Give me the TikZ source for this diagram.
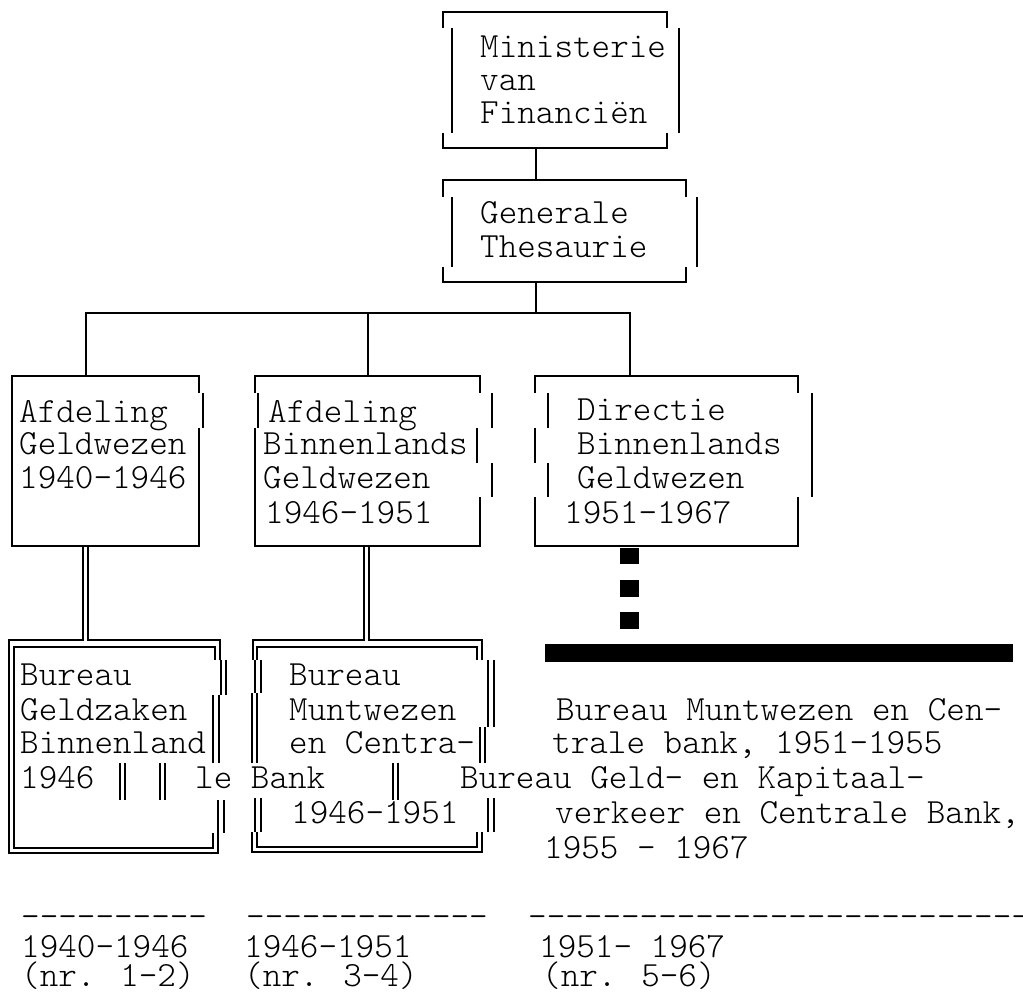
\documentclass[tikz,border=0pt]{standalone}
\usepackage{fontspec}
\newfontfamily\lmlight{Latin Modern Mono Light}
\begin{document}
\begin{tikzpicture}[x=1pt,y=-1pt,
  txt/.style={anchor=base west,inner sep=0pt,font=\lmlight\fontsize{35.4}{40}\selectfont},
  sl/.style={line width=1.8pt},
  dl/.style={line width=1.3pt},
  blk/.style={fill=black}]
\useasboundingbox (0,0) rectangle (1023,996);
\fill[white] (0,0) rectangle (1023,996);

% ---------- Ministerie van Financien
\node[txt] (min1) at (480,57) {Ministerie};
\node[txt] (min2) at (480,90) {van};
\node[txt] (min3) at (480,123) {Financiën};
\draw[sl] (443,28) -- (443,12) -- (667,12) -- (667,28);
\draw[sl] (452,28) -- (452,133);
\draw[sl] (679,28) -- (679,133);
\draw[sl] (443,133) -- (443,148) -- (667,148) -- (667,133);
\coordinate (minB) at (536,148);
\coordinate (genT) at (536,180);
\draw[sl] (minB) -- (genT);

% ---------- Generale Thesaurie
\node[txt] (gen1) at (480,223) {Generale};
\node[txt] (gen2) at (480,257) {Thesaurie};
\draw[sl] (443,197) -- (443,180) -- (686,180) -- (686,197);
\draw[sl] (452,197) -- (452,267);
\draw[sl] (697,197) -- (697,267);
\draw[sl] (443,267) -- (443,282) -- (686,282) -- (686,267);
\coordinate (genB) at (536,282);
\coordinate (bus) at (536,313);
\coordinate (busB) at (368,313);
\coordinate (aT) at (86,376);
\coordinate (bT) at (368,376);
\coordinate (cT) at (630,376);
\draw[sl] (genB) -- (bus);
\draw[sl] (aT) |- (bus) -| (cT);
\draw[sl] (busB) -- (bT);

% ---------- Afdeling Geldwezen
\node[txt] (a1) at (19,422) {Afdeling};
\node[txt] (a2) at (19,454) {Geldwezen};
\node[txt] (a3) at (19,488) {1940-1946};
\draw[sl] (199,393) -- (199,376) -- (12,376) -- (12,546) -- (199,546) -- (199,428);
\draw[sl] (203,393) -- (203,428);

% ---------- Afdeling Binnenlands Geldwezen
\node[txt] (b1) at (268,422) {Afdeling};
\node[txt] (b2) at (263,454) {Binnenlands};
\node[txt] (b3) at (263,488) {Geldwezen};
\node[txt] (b4) at (265,523) {1946-1951};
\draw[sl] (255,393) -- (255,376) -- (480,376) -- (480,393);
\draw[sl] (258,393) -- (258,428);
\draw[sl] (255,428) -- (255,546) -- (480,546) -- (480,497);
\draw[sl] (492,393) -- (492,428);
\draw[sl] (477,428) -- (477,463);
\draw[sl] (492,463) -- (492,497);

% ---------- Directie Binnenlands Geldwezen
\node[txt] (c1) at (577,420) {Directie};
\node[txt] (c2) at (577,454) {Binnenlands};
\node[txt] (c3) at (577,488) {Geldwezen};
\node[txt] (c4) at (564,523) {1951-1967};
\draw[sl] (535,393) -- (535,376) -- (798,376) -- (798,393);
\draw[sl] (548,393) -- (548,428);
\draw[sl] (535,428) -- (535,463);
\draw[sl] (548,463) -- (548,497);
\draw[sl] (535,497) -- (535,546) -- (798,546) -- (798,497);
\draw[sl] (812,393) -- (812,497);

% squares and bar
\fill[blk] (620,548) rectangle (639,564);
\fill[blk] (620,580) rectangle (639,597);
\fill[blk] (620,612) rectangle (639,629);
\fill[blk] (545,644) rectangle (1013,662);

% ---------- Bureau Geldzaken Binnenland (double)
\coordinate (aB1) at (83,546);
\coordinate (aB2) at (88,546);
\coordinate (dT1) at (83,640);
\coordinate (dT2) at (88,640);
\draw[dl] (aB1) -- (dT1) -- (9,640) -- (9,853) -- (218,853) -- (218,833);
\draw[dl] (aB2) -- (dT2) -- (220,640) -- (220,660);
\draw[dl] (215,660) -- (215,647) -- (14,647) -- (14,848) -- (213,848) -- (213,833);
\draw[dl] (221,660) -- (221,695);
\draw[dl] (226,660) -- (226,695);
\draw[dl] (213,695) -- (213,763);
\draw[dl] (219,695) -- (219,763);
\draw[dl] (218,800) -- (218,833);
\draw[dl] (224,800) -- (224,833);
\node[txt] (d1) at (20,685) {Bureau};
\node[txt] (d2) at (20,720) {Geldzaken};
\node[txt] (d3) at (20,753) {Binnenland};
\node[txt] (d4) at (20,788) {1946};
% row glyphs
\draw[dl] (120,763) -- (120,800);
\draw[dl] (125,763) -- (125,800);
\draw[dl] (160,763) -- (160,800);
\draw[dl] (165,763) -- (165,800);
\node[txt] (row1) at (195,788) {le Bank};
\draw[dl] (393,763) -- (393,800);
\draw[dl] (398,763) -- (398,800);

% ---------- Bureau Muntwezen en Centrale Bank (double)
\coordinate (bB1) at (364,546);
\coordinate (bB2) at (369,546);
\coordinate (eT1) at (364,640);
\coordinate (eT2) at (369,640);
\draw[dl] (bB1) -- (eT1) -- (253,640) -- (253,660);
\draw[dl] (bB2) -- (eT2) -- (482,640) -- (482,660);
\draw[dl] (257,660) -- (257,647) -- (477,647) -- (477,660);
\draw[dl] (255,660) -- (255,693);
\draw[dl] (261,660) -- (261,693);
\draw[dl] (252,693) -- (252,763);
\draw[dl] (257,693) -- (257,763);
\draw[dl] (255,798) -- (255,832);
\draw[dl] (261,798) -- (261,832);
\draw[dl] (252,832) -- (252,852) -- (482,852) -- (482,832);
\draw[dl] (257,832) -- (257,847) -- (477,847) -- (477,832);
\draw[dl] (488,660) -- (488,727);
\draw[dl] (494,660) -- (494,727);
\draw[dl] (480,727) -- (480,763);
\draw[dl] (485,727) -- (485,763);
\draw[dl] (488,798) -- (488,832);
\draw[dl] (494,798) -- (494,832);
\node[txt] (e1) at (289,685) {Bureau};
\node[txt] (e2) at (289,720) {Muntwezen};
\node[txt] (e3) at (289,753) {en Centra-};
\node[txt] (e4) at (291,823) {1946-1951};

% ---------- right-hand texts
\node[txt] (f1) at (556,720) {Bureau Muntwezen en Cen-};
\node[txt] (f2) at (552,753) {trale bank, 1951-1955};
\node[txt] (f3) at (460,788) {Bureau Geld- en Kapitaal-};
\node[txt] (f4) at (555,823) {verkeer en Centrale Bank,};
\node[txt] (f5) at (544,858) {1955 - 1967};

% ---------- bottom rows
\node[txt] (g1) at (21,927) {----------};
\node[txt] (g2) at (246,927) {-------------};
\node[txt] (g3) at (528,927) {----------------------------};
\node[txt] (h1) at (21,957) {1940-1946};
\node[txt] (h2) at (244,957) {1946-1951};
\node[txt] (h3) at (539,957) {1951- 1967};
\node[txt] (i1) at (21,986) {(nr. 1-2)};
\node[txt] (i2) at (244,986) {(nr. 3-4)};
\node[txt] (i3) at (542,986) {(nr. 5-6)};
\end{tikzpicture}
\end{document}
